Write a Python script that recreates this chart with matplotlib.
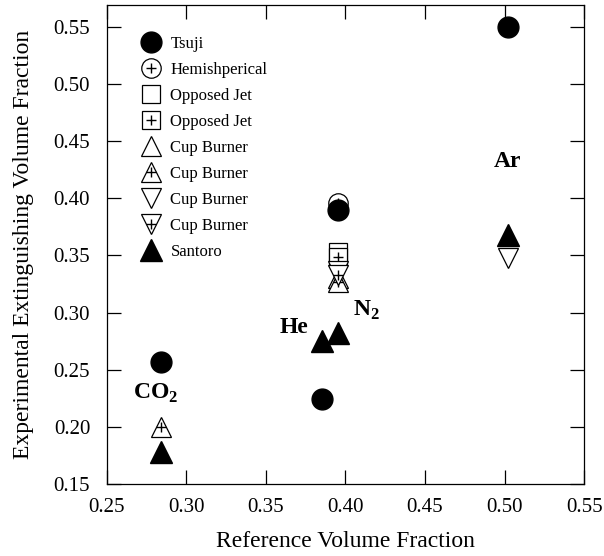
import matplotlib
matplotlib.use("Agg")
import matplotlib.pyplot as plt

plt.rcParams['font.family'] = ['Liberation Serif', 'DejaVu Serif']
plt.rcParams['mathtext.fontset'] = 'custom'
plt.rcParams['mathtext.rm'] = 'Liberation Serif'
plt.rcParams['mathtext.bf'] = 'Liberation Serif:bold'

# Data (reference fraction, experimental fraction)
tsuji_x = [0.284, 0.385, 0.395, 0.502]
tsuji_y = [0.257, 0.224, 0.390, 0.550]
hemi_x = [0.395]
hemi_y = [0.396]
oj_x = [0.395]
oj_y = [0.353]
ojp_x = [0.395]
ojp_y = [0.349]
cup_up_x = [0.395]
cup_up_y = [0.330]
cup_upp_x = [0.284, 0.395]
cup_upp_y = [0.200, 0.327]
cup_dn_x = [0.395, 0.502]
cup_dn_y = [0.336, 0.348]
cup_dnp_x = [0.395]
cup_dnp_y = [0.333]
santoro_x = [0.284, 0.385, 0.395, 0.502]
santoro_y = [0.178, 0.275, 0.282, 0.368]

labels = ["Tsuji", "Hemishperical", "Opposed Jet", "Opposed Jet",
          "Cup Burner", "Cup Burner", "Cup Burner", "Cup Burner", "Santoro"]

gas_labels = ["CO$_\\mathbf{2}$", "He", "N$_\\mathbf{2}$", "Ar"]
gas_x = [0.2804, 0.3675, 0.4135, 0.5016]
gas_y = [0.229, 0.2866, 0.302, 0.432]

fig = plt.figure(figsize=(6.04, 5.56), dpi=100)
ax = fig.add_axes([0.177, 0.1295, 0.790, 0.8615])

open_kw = dict(linestyle='none', mfc='white', mec='black', mew=0.9)
plus_kw = dict(linestyle='none', marker='+', color='black', ms=7, mew=1.0)

def plot_open(x, y, marker, ms, plus=False, z=3):
    h = ax.plot(x, y, marker=marker, ms=ms, zorder=z, **open_kw)[0]
    if plus:
        p = ax.plot(x, y, zorder=z + 0.1, **plus_kw)[0]
        return (h, p)
    return h

h_hemi = plot_open(hemi_x, hemi_y, 'o', 14, plus=True, z=2)
h_oj = plot_open(oj_x, oj_y, 's', 13.5, z=3)
h_ojp = plot_open(ojp_x, ojp_y, 's', 13.5, plus=True, z=3.2)
h_up = plot_open(cup_up_x, cup_up_y, '^', 14.5, z=3.4)
h_upp = plot_open(cup_upp_x, cup_upp_y, '^', 14.5, plus=True, z=3.6)
h_dn = plot_open(cup_dn_x, cup_dn_y, 'v', 14.5, z=3.8)
h_dnp = plot_open(cup_dnp_x, cup_dnp_y, 'v', 14.5, plus=True, z=4.0)
h_ts = ax.plot(tsuji_x, tsuji_y, 'o', ms=15, color='black', zorder=5)[0]
h_sa = ax.plot(santoro_x, santoro_y, '^', ms=16, color='black', zorder=5)[0]

for t, x, y in zip(gas_labels, gas_x, gas_y):
    ax.text(x, y, t, fontsize=17, fontweight='bold', ha='center', va='center')

handles = [h_ts, h_hemi, h_oj, h_ojp, h_up, h_upp, h_dn, h_dnp, h_sa]
leg = ax.legend(handles, labels, loc='upper left', bbox_to_anchor=(0.065, 0.935),
                frameon=False, fontsize=12, handlelength=1.6, handletextpad=0.35,
                labelspacing=0.6, borderaxespad=0.0, borderpad=0.0)

ax.set_xlim(0.25, 0.55)
ax.set_ylim(0.15, 0.569)
ax.set_xticks([0.25, 0.30, 0.35, 0.40, 0.45, 0.50, 0.55])
ax.set_yticks([0.15, 0.20, 0.25, 0.30, 0.35, 0.40, 0.45, 0.50, 0.55])
ax.xaxis.set_major_formatter(matplotlib.ticker.FormatStrFormatter('%.2f'))
ax.yaxis.set_major_formatter(matplotlib.ticker.FormatStrFormatter('%.2f'))
ax.tick_params(direction='in', length=10, width=0.9, top=True, right=True,
               labelsize=15)
ax.tick_params(axis='x', pad=10)
ax.tick_params(axis='y', pad=12)
for s in ax.spines.values():
    s.set_linewidth(0.9)

ax.set_xlabel("Reference Volume Fraction", fontsize=17, labelpad=10)
ax.set_ylabel("Experimental Extinguishing Volume Fraction", fontsize=17, labelpad=14)

fig.savefig("out.png", dpi=100)
